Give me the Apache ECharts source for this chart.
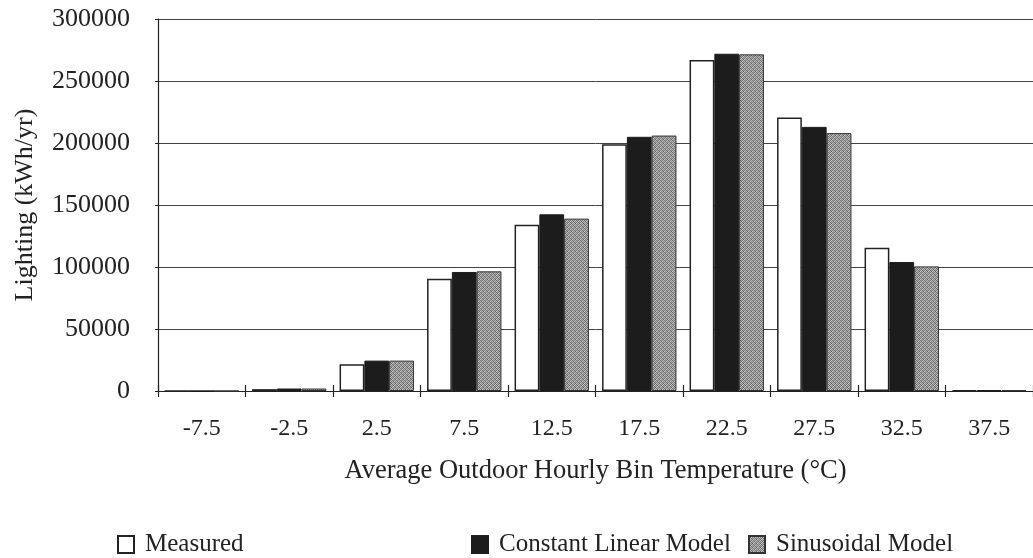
<!DOCTYPE html>
<html>
<head>
<meta charset="utf-8">
<script src="https://cdn.jsdelivr.net/npm/echarts@6/dist/echarts.min.js"></script>
<style>
html,body{margin:0;padding:0;background:#fff;}
#c{width:1033px;height:558px;}
</style>
</head>
<body>
<div id="c"></div>
<script>
const categories = ['-7.5','-2.5','2.5','7.5','12.5','17.5','22.5','27.5','32.5','37.5'];
const measured = [0, 1500, 21500, 90500, 134000, 199000, 267000, 220500, 115500, 600];
const constantLinear = [0, 2000, 24500, 96000, 142500, 205000, 272000, 213000, 104000, 700];
const sinusoidal = [0, 2000, 24500, 96500, 139000, 206000, 271500, 208000, 100500, 700];
const yTicks = [0, 50000, 100000, 150000, 200000, 250000, 300000];

// stippled gray texture (fixed dither pattern)
function makePattern(){
  const levels = [
    [110,170,120,190],
    [180,100,200,130],
    [125,195,105,165],
    [200,135,175,95]
  ];
  const cv = document.createElement('canvas');
  cv.width = 4; cv.height = 4;
  const ctx = cv.getContext('2d');
  for (let y=0;y<4;y++) for (let x=0;x<4;x++){
    const v = levels[y][x];
    ctx.fillStyle = 'rgb('+v+','+v+','+v+')';
    ctx.fillRect(x,y,1,1);
  }
  return cv;
}
const pattern = {image: makePattern(), repeat: 'repeat'};
const FONT = '"Liberation Serif", "Times New Roman", serif';

const chart = echarts.init(document.getElementById('c'), null, {renderer:'canvas'});
const legendBase = {
  top: 527, itemWidth: 16, itemHeight: 17, icon: 'rect',
  textStyle: {fontFamily: FONT, fontSize: 25, color: '#222', padding: [0,0,0,6]}
};
chart.setOption({
  backgroundColor: '#fff',
  animation: false,
  grid: {left: 158, top: 19, width: 881, height: 372, containLabel: false},
  legend: [
    Object.assign({data: ['Measured'], left: 112}, legendBase),
    Object.assign({data: ['Constant Linear Model'], left: 466}, legendBase),
    Object.assign({data: ['Sinusoidal Model'], left: 743}, legendBase)
  ],
  xAxis: [{
    type: 'category', data: categories, boundaryGap: true,
    axisLine: {lineStyle: {color: '#222', width: 1.2}},
    axisTick: {show: true, length: 6, lineStyle: {color: '#222', width: 1.2}},
    axisLabel: {fontFamily: FONT, fontSize: 24, color: '#222', margin: 26},
    name: 'Average Outdoor Hourly Bin Temperature (°C)',
    nameLocation: 'middle', nameGap: 67,
    nameTextStyle: {fontFamily: FONT, fontSize: 26.5, color: '#222'}
  },{
    type: 'category', data: categories, boundaryGap: true, position: 'bottom',
    axisLine: {show: false},
    axisTick: {show: true, inside: true, length: 6, lineStyle: {color: '#222', width: 1.2}},
    axisLabel: {show: false}
  }],
  yAxis: {
    type: 'value', min: 0, max: 300000, interval: 50000,
    axisLine: {show: true, lineStyle: {color: '#222', width: 1.2}},
    axisTick: {show: true, length: 3, lineStyle: {color: '#222'}},
    splitLine: {show: true, lineStyle: {color: '#444', width: 1}},
    axisLabel: {fontFamily: FONT, fontSize: 26, color: '#222', margin: 28,
      formatter: v => yTicks.indexOf(v) >= 0 ? String(v) : ''},
    name: 'Lighting (kWh/yr)', nameLocation: 'middle', nameGap: 120,
    nameTextStyle: {fontFamily: FONT, fontSize: 26, color: '#222'}
  },
  series: [
    {name: 'Measured', type: 'bar', data: measured, barGap: '0%', barCategoryGap: '15%',
      itemStyle: {color: '#fff', borderColor: '#222', borderWidth: 1.5}},
    {name: 'Constant Linear Model', type: 'bar', data: constantLinear,
      itemStyle: {color: '#1c1c1c', borderColor: '#1c1c1c', borderWidth: 1}},
    {name: 'Sinusoidal Model', type: 'bar', data: sinusoidal,
      itemStyle: {color: pattern, borderColor: '#333', borderWidth: 1}}
  ]
});
</script>
</body>
</html>
